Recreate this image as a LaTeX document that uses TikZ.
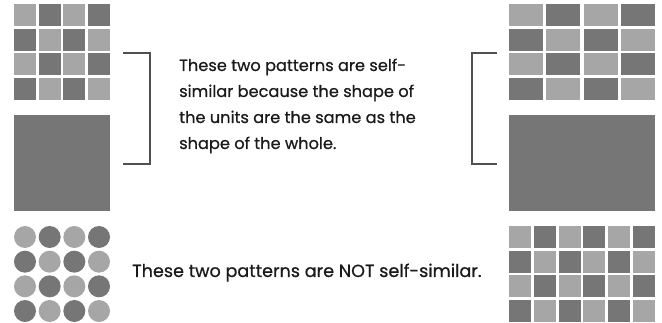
\documentclass[tikz,border=0pt]{standalone}
\usepackage{fontspec}
\setmainfont{Poppins}
\newfontfamily\notefont[FakeBold=0.6]{Poppins}
\usepackage{xcolor}
\usetikzlibrary{positioning}
\definecolor{ink}{HTML}{1B1919}
\definecolor{tileLight}{HTML}{A6A6A6}
\definecolor{tileDark}{HTML}{767676}
\definecolor{rule}{HTML}{505050}

\begin{document}
\begin{tikzpicture}[x=1pt,y=-1pt,
  tone0/.style={fill=tileLight},
  tone1/.style={fill=tileDark},
  note/.style={font=\notefont\fontsize{16.2}{26}\selectfont, text=ink, align=left, inner sep=0pt},
  brk/.style={draw=rule, line width=1.1pt}]
\useasboundingbox (0,0) rectangle (662,323);
% self-similar pair: square tiles, solid square
\foreach \c in {0,...,3}
  \foreach \r in {0,...,3}{
    \pgfmathtruncatemacro\tone{mod(\c+\r,2)}
    \fill[tone\tone] ({14+24.67*\c},{4+24.67*\r}) rectangle +(22,22);
  }
\fill[tone1] (14,115) rectangle (110,211);
% self-similar pair: oblong tiles, solid oblong
\foreach \c in {0,...,3}
  \foreach \r in {0,...,3}{
    \pgfmathtruncatemacro\tone{mod(\c+\r,2)}
    \fill[tone\tone] ({509+37.33*\c},{4+24.67*\r}) rectangle +(34,22);
  }
\fill[tone1] (509,115) rectangle (655,211);
% not self-similar: dots, squares in an oblong
\foreach \c in {0,...,3}
  \foreach \r in {0,...,3}{
    \pgfmathtruncatemacro\tone{mod(\c+\r,2)}
    \fill[tone\tone] ({25+24.67*\c},{237+24.67*\r}) circle (11);
  }
\foreach \c in {0,...,5}
  \foreach \r in {0,...,3}{
    \pgfmathtruncatemacro\tone{mod(\c+\r,2)}
    \fill[tone\tone] ({509+24.8*\c},{226+24.67*\r}) rectangle +(22,22);
  }
% brackets
\coordinate (lt) at (123,53); \coordinate (lb) at (123,164);
\coordinate (rt) at (497,53); \coordinate (rb) at (497,164);
\draw[brk] (lt) -- ++(27,0) |- (lb);
\draw[brk] (rt) -- ++(-25,0) |- (rb);
\node[note, anchor=base west] (same) at (179,149)
  {These two patterns are self-\\similar because the shape of\\the units are the same as the\\shape of the whole.};
\node[note, anchor=base west, font=\notefont\fontsize{17.6}{26}\selectfont] (notsame) at (132,277)
  {These two patterns are NOT self-similar.};
\end{tikzpicture}
\end{document}
